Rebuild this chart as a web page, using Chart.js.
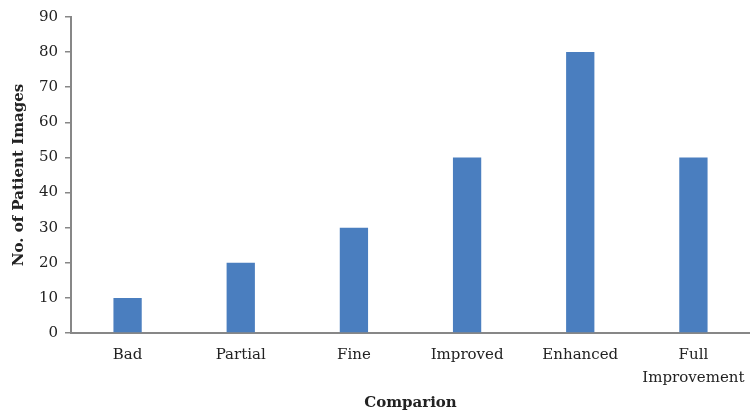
<!DOCTYPE html>
<html>
<head>
<meta charset="utf-8">
<script src="https://cdn.jsdelivr.net/npm/chart.js@4"></script>
<style>
  body { margin: 0; background: #fff; }
  #wrap { width: 750px; height: 416px; }
</style>
</head>
<body>
<div id="wrap"><canvas id="barchart"></canvas></div>
<script>
const categories = ['Bad', 'Partial', 'Fine', 'Improved', 'Enhanced', ['Full', 'Improvement']];
const patientImages = [10, 20, 30, 50, 80, 50];
const yTicks = [0, 10, 20, 30, 40, 50, 60, 70, 80, 90];

const ctx = document.getElementById('barchart');

new Chart(ctx, {
  type: 'bar',
  data: {
    labels: categories,
    datasets: [{
      label: 'No. of Patient Images',
      data: patientImages,
      backgroundColor: '#4a7ebf',
      borderWidth: 0,
      categoryPercentage: 1,
      barPercentage: 0.25
    }]
  },
  options: {
    responsive: true,
    maintainAspectRatio: false,
    animation: false,
    layout: { padding: { top: 17, right: 0, left: 0, bottom: 0 } },
    plugins: {
      legend: { display: false },
      tooltip: { enabled: false }
    },
    scales: {
      x: {
        grid: { drawOnChartArea: false, drawTicks: false },
        border: { color: '#878787', width: 2 },
        ticks: {
          color: '#222',
          padding: 11,
          maxRotation: 0,
          font: { family: 'DejaVu Serif', size: 15, lineHeight: 1.5 }
        },
        title: {
          display: true,
          text: 'Comparion',
          color: '#222',
          padding: { top: 8 },
          font: { family: 'DejaVu Serif', size: 15, weight: 'bold' }
        },
        afterFit: (scale) => {
          scale.height = 83;
          scale.paddingRight = 0;
        }
      },
      y: {
        min: 0,
        max: 90,
        afterBuildTicks: (scale) => { scale.ticks = yTicks.map(v => ({ value: v })); },
        grid: { drawOnChartArea: false, drawTicks: true, tickLength: 6, color: '#878787', lineWidth: 1.5 },
        border: { color: '#878787', width: 2 },
        ticks: {
          color: '#222',
          padding: 7,
          font: { family: 'DejaVu Serif', size: 15 }
        },
        title: {
          display: true,
          text: 'No. of Patient Images',
          color: '#222',
          padding: { top: 10, bottom: 0 },
          font: { family: 'DejaVu Serif', size: 15, weight: 'bold' }
        },
        afterFit: (scale) => {
          scale.width = 71;
          scale.paddingTop = 0;
        }
      }
    }
  }
});
</script>
</body>
</html>
